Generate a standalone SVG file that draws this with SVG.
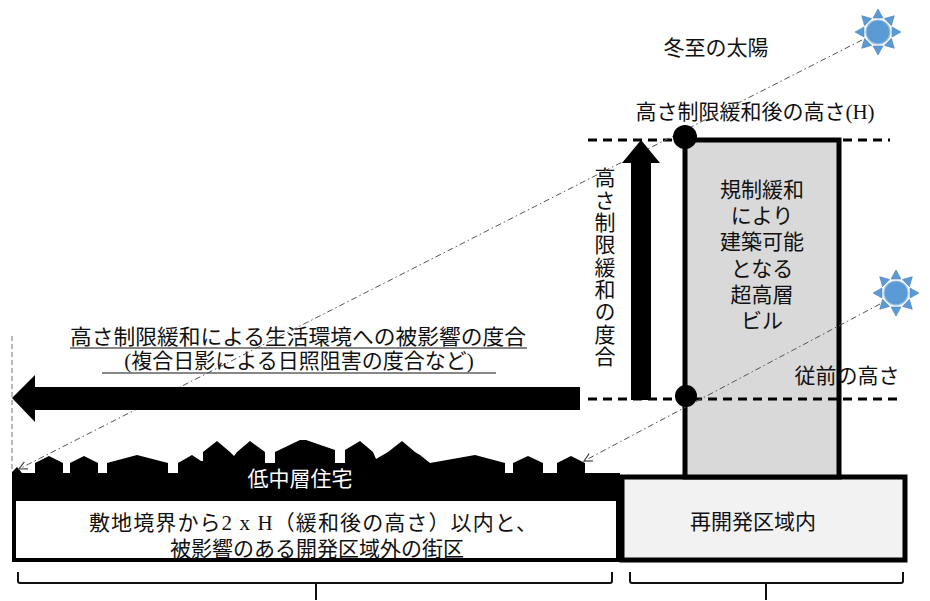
<svg xmlns="http://www.w3.org/2000/svg" width="930" height="601" viewBox="0 0 930 601">
  <style>
    .t { font-family: "Liberation Serif", "Noto Sans CJK JP", serif; font-size: 21px; fill: #111; }
    .c { text-anchor: middle; }
    .ray { fill: none; stroke: #555; stroke-width: 1; stroke-dasharray: 6 3 1.5 3; }
    .lvl { fill: none; stroke: #000; stroke-width: 3; stroke-dasharray: 9 6; }
    .solid { fill: #000; }
    .brace { fill: none; stroke: #111; stroke-width: 2; }
  </style>
  <defs>
    <marker id="openArrow" viewBox="0 0 10 10" refX="9" refY="5" markerWidth="10" markerHeight="10" markerUnits="userSpaceOnUse" orient="auto">
      <path d="M1,1 L9,5 L1,9" fill="none" stroke="#444" stroke-width="1.2"/>
    </marker>
    <g id="sun">
      <g fill="#5b9bd5" stroke="#4a7ebb" stroke-width="0.6">
        <path d="M0,-23 L5,-14 L-5,-14 Z"/>
        <path d="M0,-23 L5,-14 L-5,-14 Z" transform="rotate(45)"/>
        <path d="M0,-23 L5,-14 L-5,-14 Z" transform="rotate(90)"/>
        <path d="M0,-23 L5,-14 L-5,-14 Z" transform="rotate(135)"/>
        <path d="M0,-23 L5,-14 L-5,-14 Z" transform="rotate(180)"/>
        <path d="M0,-23 L5,-14 L-5,-14 Z" transform="rotate(225)"/>
        <path d="M0,-23 L5,-14 L-5,-14 Z" transform="rotate(270)"/>
        <path d="M0,-23 L5,-14 L-5,-14 Z" transform="rotate(315)"/>
      </g>
      <circle r="12" fill="#5b9bd5" stroke="#9dc3e6" stroke-width="1.2"/>
    </g>
  </defs>

  <!-- redevelopment district base -->
  <g id="redevelopment-area">
    <rect x="622" y="477" width="283" height="83" fill="#f2f2f2" stroke="#000" stroke-width="5"/>
    <text class="t c" x="753" y="529">再開発区域内</text>
  </g>

  <!-- surrounding blocks: row of low houses on a black band -->
  <g id="low-rise-houses">
    <path class="solid" d="M12,500 L12,472 L17,467 L22,473 L35,473 L35,463 L49,456 L63,463 L63,473 L70,473 L70,463 L84,456 L98,463 L98,473 L107,473 L107,463 L137,455 L168,463 L168,473 L178,473 L178,463 L192,455 L201,461 L203,461 L203,452 L217,441 L230,452 L234,456 L237,452 L250,441 L265,452 L265,463 L275,463 L275,452 L300,440 L306,440 L335,450 L335,463 L345,463 L345,450 L360,441 L373,452 L376,459 L388,452 L402,441 L415,452 L420,455 L430,463 L475,455 L505,463 L505,473 L513,473 L513,463 L528,456 L543,463 L543,473 L557,473 L557,463 L571,456 L585,463 L585,473 L620,473 L620,500 Z"/>
    <text class="t c" x="300" y="486" style="fill:#fff">低中層住宅</text>
  </g>

  <g id="affected-blocks">
    <rect x="14" y="499" width="604" height="61" fill="#fff" stroke="#000" stroke-width="4"/>
    <text class="t c"><tspan x="313" y="530" textLength="448" lengthAdjust="spacing">敷地境界から2 x H（緩和後の高さ）以内と、</tspan><tspan x="317" y="556">被影響のある開発区域外の街区</tspan></text>
  </g>

  <!-- high-rise building enabled by deregulation -->
  <g id="high-rise">
    <rect x="685" y="140" width="154" height="337" fill="#d9d9d9" stroke="#000" stroke-width="5"/>
    <text class="t c"><tspan x="762" y="197">規制緩和</tspan><tspan x="762" y="223">により</tspan><tspan x="762" y="249">建築可能</tspan><tspan x="762" y="276">となる</tspan><tspan x="762" y="302">超高層</tspan><tspan x="762" y="328">ビル</tspan></text>
  </g>

  <g id="sun-winter">
    <use href="#sun" x="878" y="32"/>
    <text class="t c" x="716" y="55">冬至の太陽</text>
  </g>
  <g id="sun-low">
    <use href="#sun" x="896" y="293"/>
  </g>

  <g id="label-height-h">
    <text class="t c" x="755" y="119">高さ制限緩和後の高さ(H)</text>
  </g>
  <g id="label-previous-height">
    <text class="t c" x="847" y="383">従前の高さ</text>
  </g>

  <g id="label-impact">
    <text class="t c"><tspan x="298" y="344" textLength="456" lengthAdjust="spacingAndGlyphs">高さ制限緩和による生活環境への被影響の度合</tspan><tspan x="299" y="368">(複合日影による日照阻害の度合など)</tspan></text>
    <line x1="70" y1="348" x2="527" y2="348" stroke="#111" stroke-width="1"/>
    <line x1="102" y1="373" x2="496" y2="373" stroke="#111" stroke-width="1"/>
  </g>

  <!-- vertical caption beside the up arrow -->
  <g id="label-relaxation">
    <text class="t" x="603" y="167" style="writing-mode: vertical-rl; letter-spacing: 1.3px">高さ制限緩和の度合</text>
  </g>

  <!-- connectors: height levels, sun rays, block arrows, braces -->
  <g id="connectors">
    <line class="lvl" x1="588" y1="140" x2="890" y2="140"/>
    <line class="lvl" x1="588" y1="399" x2="902" y2="399"/>
    <line x1="12" y1="336" x2="12" y2="472" stroke="#777" stroke-width="1" stroke-dasharray="5 3"/>

    <line class="ray" x1="862" y1="40" x2="19" y2="469" marker-end="url(#openArrow)"/>
    <line class="ray" x1="880" y1="304" x2="584" y2="461" marker-end="url(#openArrow)"/>

    <polygon class="solid" points="641,140 660,163 651,163 651,400 631,400 631,163 622,163"/>
    <polygon class="solid" points="12,398 35,375 35,387 580,387 580,410 35,410 35,422"/>

    <circle cx="685" cy="137" r="12" fill="#000"/>
    <circle cx="686" cy="396" r="11" fill="#000"/>

    <path class="brace" d="M18,572 L18,581 Q18,583 20,583 L610,583 Q612,583 612,581 L612,572 M316,583 L316,600"/>
    <path class="brace" d="M630,572 L630,581 Q630,583 632,583 L901,583 Q903,583 903,581 L903,572 M766,583 L766,600"/>
  </g>
</svg>
